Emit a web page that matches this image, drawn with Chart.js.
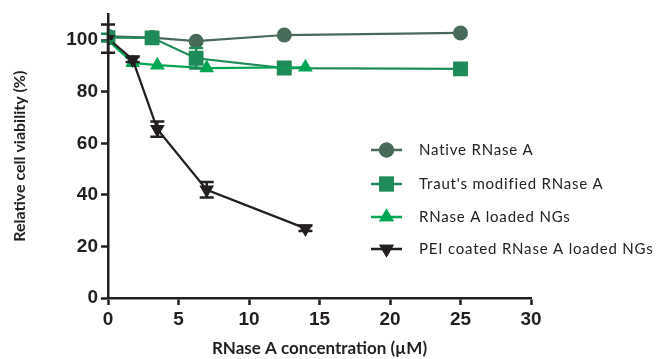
<!DOCTYPE html>
<html><head><meta charset="utf-8">
<script src="https://cdn.jsdelivr.net/npm/chart.js@4"></script>
<style>html,body{margin:0;padding:0;background:#fff}#wrap{width:657px;height:359px;position:relative}</style>
</head><body><div id="wrap"><canvas id="c" width="657" height="359"></canvas></div>
<script>
const seriesLabels = ["Native RNase A", "Traut's modified RNase A", "RNase A loaded NGs", "PEI coated RNase A loaded NGs"];
const xNative = [0, 3.125, 6.25, 12.5, 25];
const yNative = [101.5, 101, 99.6, 102, 102.8];
const eNative = [0, 0, 0, 0, 0];
const xTraut = [0, 3.125, 6.25, 12.5, 25];
const yTraut = [101, 100.9, 93, 89.2, 88.9];
const eTraut = [1.5, 2, 4, 1, 1];
const xNG = [0, 1.75, 3.5, 7, 14];
const yNG = [100, 91.2, 90.3, 89.2, 89.5];
const eNG = [0, 0, 0, 0, 0];
const xPEI = [0, 1.75, 3.5, 7, 14];
const yPEI = [100.6, 92.5, 65.5, 42, 27];
const ePEI = [5.5, 1, 3, 3, 1];
const xTicks = [0, 5, 10, 15, 20, 25, 30];
const yTicks = [0, 20, 40, 60, 80, 100];
const xTitle = "RNase A concentration (\u00b5M)";
const yTitle = "Relative cell viability (%)";

const pts = (xs, ys) => xs.map((x, i) => ({x: x, y: ys[i]}));
const colors = ["#486a59", "#1f8b58", "#00a651", "#231f20"];
const errs = [eNative, eTraut, eNG, ePEI];

function mk(i, xs, ys, style, radius, rotation) {
  return {label: seriesLabels[i], data: pts(xs, ys), borderColor: colors[i], backgroundColor: colors[i],
    borderWidth: 2.2, pointStyle: style, pointRadius: radius, pointRotation: rotation || 0,
    pointBorderWidth: 0, pointHoverRadius: radius, tension: 0, order: 4 - i};
}

const errorBars = {
  id: 'errorBars',
  afterDatasetsDraw(chart) {
    const ctx = chart.ctx, xs = chart.scales.x, ys = chart.scales.y;
    chart.data.datasets.forEach((ds, i) => {
      const e = errs[i];
      ctx.save();
      ctx.strokeStyle = colors[i]; ctx.lineWidth = 2.5;
      ds.data.forEach((p, j) => {
        if (!e[j]) return;
        const px = xs.getPixelForValue(p.x);
        const top = ys.getPixelForValue(p.y + e[j]), bot = ys.getPixelForValue(p.y - e[j]);
        ctx.beginPath();
        ctx.moveTo(px, top); ctx.lineTo(px, bot);
        ctx.moveTo(px - 7, top); ctx.lineTo(px + 7, top);
        ctx.moveTo(px - 7, bot); ctx.lineTo(px + 7, bot);
        ctx.stroke();
      });
      ctx.restore();
    });
  }
};

const legendPlugin = {
  id: 'customLegend',
  afterDraw(chart) {
    const ctx = chart.ctx;
    const rows = [150, 184, 217, 249];
    chart.data.datasets.forEach((ds, i) => {
      const y = rows[i];
      ctx.save();
      ctx.strokeStyle = ds.borderColor; ctx.lineWidth = 2.5;
      ctx.beginPath(); ctx.moveTo(371, y); ctx.lineTo(402, y); ctx.stroke();
      ctx.fillStyle = ds.backgroundColor;
      Chart.helpers.drawPoint(ctx, {pointStyle: ds.pointStyle, radius: ds.pointRadius, rotation: ds.pointRotation, borderWidth: 0}, 386.5, y);
      ctx.fill();
      ctx.fillStyle = '#222';
      ctx.font = '15px Lato';
      if ('letterSpacing' in ctx) ctx.letterSpacing = '0.8px';
      ctx.textBaseline = 'middle';
      ctx.fillText(ds.label, 419, y);
      ctx.restore();
    });
  }
};

new Chart(document.getElementById('c'), {
  type: 'line',
  data: {datasets: [
    mk(0, xNative, yNative, 'circle', 7.5),
    mk(1, xTraut, yTraut, 'rect', 10.5),
    mk(2, xNG, yNG, 'triangle', 8.5),
    mk(3, xPEI, yPEI, 'triangle', 8.5, 180)
  ]},
  options: {
    responsive: false, animation: false, devicePixelRatio: 1,
    layout: {padding: {top: 14, right: 126, left: 0, bottom: 0}},
    plugins: {legend: {display: false}, tooltip: {enabled: false}},
    scales: {
      x: {type: 'linear', min: 0, max: 30, offset: false,
        afterBuildTicks: s => { s.ticks = xTicks.map(v => ({value: v})); },
        afterFit: s => { s.height = 61; },
        grid: {drawOnChartArea: false, tickLength: 7, tickWidth: 2.5, tickColor: '#231f20'},
        border: {color: '#231f20', width: 2.5},
        ticks: {color: '#231f20', font: {family: 'Liberation Sans', weight: 'bold', size: 19}, padding: 3, maxRotation: 0},
        title: {display: true, text: xTitle, color: '#231f20', font: {family: 'Lato', weight: 'bold', size: 17}, padding: {top: 2, bottom: 0}}
      },
      y: {type: 'linear', min: 0, max: 110,
        afterBuildTicks: s => { s.ticks = yTicks.map(v => ({value: v})); },
        afterFit: s => { s.width = 108; },
        grid: {drawOnChartArea: false, tickLength: 7, tickWidth: 2.5, tickColor: '#231f20'},
        border: {color: '#231f20', width: 2.5},
        ticks: {color: '#231f20', font: {family: 'Liberation Sans', weight: 'bold', size: 19}, padding: 3},
        title: {display: true, text: yTitle, color: '#231f20', font: {family: 'Lato', weight: 'bold', size: 16}, padding: {top: 10, bottom: 10}}
      }
    }
  },
  plugins: [errorBars, legendPlugin]
});
</script></body></html>
